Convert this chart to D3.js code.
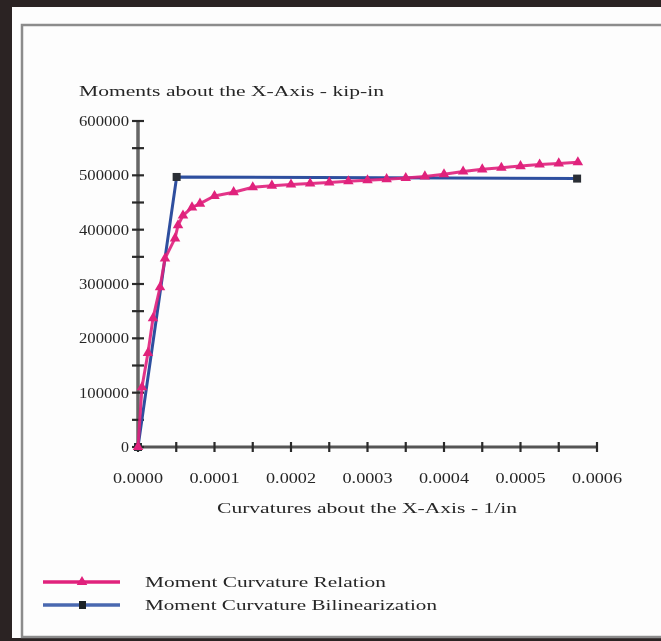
<!DOCTYPE html>
<html>
<head>
<meta charset="utf-8">
<script src="https://cdn.jsdelivr.net/npm/d3@7"></script>
<style>
  body { margin: 0; background: #2b2323; }
  text { font-family: "Liberation Serif", "DejaVu Serif", serif; fill: #262626; }
</style>
</head>
<body>
<script>
// chart size
var width = 661;
var height = 641;

// moment curvature relation (curvature 1/in, moment kip-in)
var relCurv = [0, 0.0000052, 0.000013, 0.0000196, 0.0000288, 0.0000353, 0.0000484, 0.0000523, 0.0000588, 0.0000706,
               0.000081, 0.0001, 0.000125, 0.00015, 0.000175, 0.0002, 0.000225, 0.00025, 0.000275, 0.0003,
               0.000325, 0.00035, 0.000375, 0.0004, 0.000425, 0.00045, 0.000475, 0.0005, 0.000525, 0.00055, 0.000575];
var relMoment = [0, 110000, 173000, 237000, 294000, 347000, 384000, 408000, 426000, 441000,
                 448000, 462000, 469000, 478000, 481000, 483000, 485000, 487000, 489000, 491000,
                 493000, 495000, 498000, 502000, 507000, 511000, 514000, 517000, 520000, 522000, 524000];

// bilinearization
var biCurv = [0, 0.0000505, 0.000574];
var biMoment = [0, 497000, 494000];

var yTicks = [0, 100000, 200000, 300000, 400000, 500000, 600000];
var xTicks = [0, 0.0001, 0.0002, 0.0003, 0.0004, 0.0005, 0.0006];

var legendNames = ["Moment Curvature Relation", "Moment Curvature Bilinearization"];

var pink = "#e0207c";
var blue = "#2f4f9f";

var svg = d3.select("body")
      .append("svg")
      .attr("width", width)
      .attr("height", height);

// soft photo look
svg.append("defs").append("filter").attr("id", "soft")
  .append("feGaussianBlur").attr("stdDeviation", 0.55);

// photo background + white sheet
svg.append("rect").attr("width", width).attr("height", height).attr("fill", "#2b2323");
svg.append("rect").attr("x", 12).attr("y", 7).attr("width", width - 12).attr("height", 631).attr("fill", "#fdfdfd");

var chart = svg.append("g").attr("filter", "url(#soft)");

chart.append("rect").attr("x", 22).attr("y", 25).attr("width", 700).attr("height", 612)
  .attr("fill", "none").attr("stroke", "#8c8c8c").attr("stroke-width", 2.5);

var x = d3.scaleLinear().domain([0, 0.0006]).range([138, 597]);
var y = d3.scaleLinear().domain([0, 600000]).range([447, 121]);

// axes
var xAxis = chart.append("g").attr("transform", "translate(0,447)");
xAxis.append("line").attr("x1", x(0)).attr("x2", x(0.0006))
  .attr("stroke", "#555").attr("stroke-width", 3);
xAxis.selectAll(".minor")
  .data(d3.range(0, 13).map(i => i * 0.00005))
  .join("line")
    .attr("x1", d => x(d)).attr("x2", d => x(d))
    .attr("y1", -5).attr("y2", 5)
    .attr("stroke", "#2a2a2a").attr("stroke-width", 2.2);
xAxis.selectAll(".lbl")
  .data(xTicks)
  .join("text")
    .attr("x", d => x(d))
    .attr("y", 36)
    .attr("text-anchor", "middle")
    .attr("font-size", 15)
    .attr("textLength", 50)
    .attr("lengthAdjust", "spacingAndGlyphs")
    .text(d => d3.format(".4f")(d));

var yAxis = chart.append("g").attr("transform", "translate(138,0)");
yAxis.append("line").attr("y1", y(0)).attr("y2", y(600000))
  .attr("stroke", "#666").attr("stroke-width", 3.5);
yAxis.selectAll(".minor")
  .data(d3.range(0, 13).map(i => i * 50000))
  .join("line")
    .attr("y1", d => y(d)).attr("y2", d => y(d))
    .attr("x1", -6).attr("x2", 6)
    .attr("stroke", "#2a2a2a").attr("stroke-width", 2.2);
yAxis.selectAll(".lbl")
  .data(yTicks)
  .join("text")
    .attr("x", -9)
    .attr("y", d => y(d) + 5)
    .attr("text-anchor", "end")
    .attr("font-size", 15)
    .attr("textLength", d => d == 0 ? 8 : 50)
    .attr("lengthAdjust", "spacingAndGlyphs")
    .text(d => d);

// titles
chart.append("text").attr("x", 79).attr("y", 96)
  .attr("font-size", 15.5).attr("textLength", 305).attr("lengthAdjust", "spacingAndGlyphs")
  .text("Moments about the X-Axis - kip-in");
chart.append("text").attr("x", 217).attr("y", 513)
  .attr("font-size", 15.5).attr("textLength", 300).attr("lengthAdjust", "spacingAndGlyphs")
  .text("Curvatures about the X-Axis - 1/in");

var line = d3.line().x(d => x(d[0])).y(d => y(d[1]));
var relData = relCurv.map((c, i) => [c, relMoment[i]]);
var biData = biCurv.map((c, i) => [c, biMoment[i]]);

var tri = d3.symbol().type(d3.symbolTriangle).size(48);

chart.append("path").datum(biData).attr("d", line)
  .attr("fill", "none").attr("stroke", blue).attr("stroke-width", 3);
chart.selectAll(".bi")
  .data(biData)
  .join("rect")
    .attr("x", d => x(d[0]) - 4).attr("y", d => y(d[1]) - 4)
    .attr("width", 8).attr("height", 8).attr("fill", "#2a2f35");

chart.append("path").datum(relData).attr("d", line)
  .attr("fill", "none").attr("stroke", pink).attr("stroke-width", 3).attr("opacity", 0.9);
chart.selectAll(".rel")
  .data(relData)
  .join("path")
    .attr("d", tri)
    .attr("transform", d => "translate(" + x(d[0]) + "," + y(d[1]) + ")")
    .attr("fill", pink);

// legend
var legend = chart.append("g");
legend.append("line").attr("x1", 43).attr("x2", 120).attr("y1", 582).attr("y2", 582)
  .attr("stroke", pink).attr("stroke-width", 3.5);
legend.append("path").attr("d", tri).attr("transform", "translate(82,582)").attr("fill", pink);
legend.append("line").attr("x1", 43).attr("x2", 120).attr("y1", 605).attr("y2", 605)
  .attr("stroke", "#4a68b0").attr("stroke-width", 3.5);
legend.append("rect").attr("x", 79).attr("y", 601).attr("width", 7).attr("height", 8).attr("fill", "#1e2328");
legend.selectAll("text")
  .data(legendNames)
  .join("text")
    .attr("x", 145)
    .attr("y", (d, i) => 587 + i * 23)
    .attr("font-size", 15)
    .attr("textLength", (d, i) => i == 0 ? 241 : 292)
    .attr("lengthAdjust", "spacingAndGlyphs")
    .text(d => d);
</script>
</body>
</html>
